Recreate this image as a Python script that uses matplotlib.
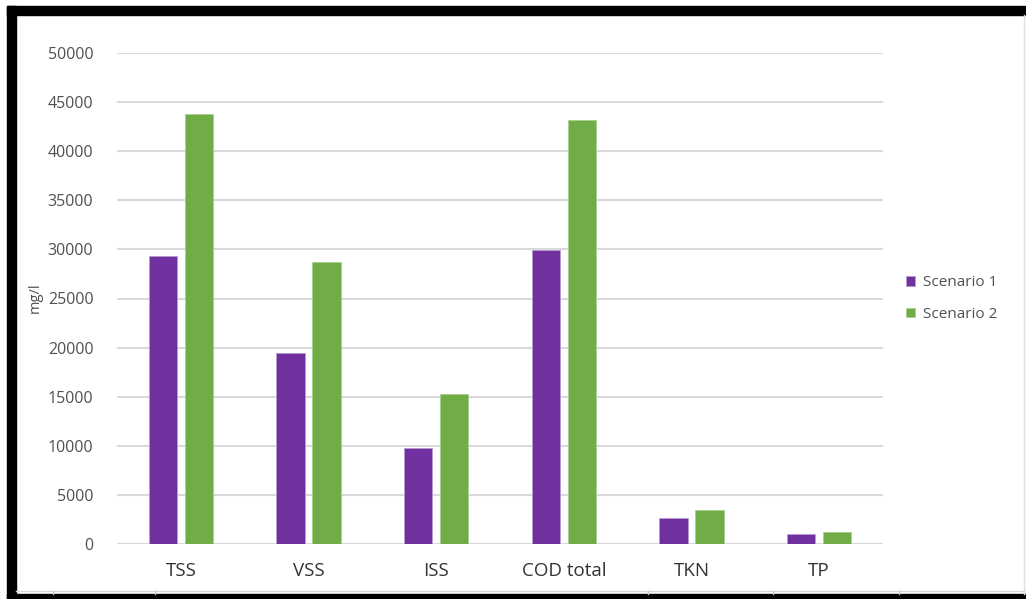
import matplotlib.pyplot as plt
import numpy as np
from matplotlib.patches import Rectangle
from matplotlib.lines import Line2D

plt.rcParams['font.family'] = ['Open Sans', 'DejaVu Sans']

categories = ['TSS', 'VSS', 'ISS', 'COD total', 'TKN', 'TP']
scenario_1 = [29300, 19500, 9800, 29900, 2650, 1050]
scenario_2 = [43800, 28700, 15300, 43200, 3500, 1250]
series_names = ['Scenario 1', 'Scenario 2']

purple = '#7030A0'
green = '#70AD47'

W, H = 1026, 599
fig = plt.figure(figsize=(W / 100, H / 100), dpi=100)

# thick black frame (top, left, bottom) around the sheet snippet
def px_rect(x0, y0, x1, y1, color):
    fig.patches.append(Rectangle((x0 / W, 1 - y1 / H), (x1 - x0) / W, (y1 - y0) / H,
                                 transform=fig.transFigure, color=color, zorder=0))

px_rect(7, 6, W, 15, 'black')
px_rect(7, 6, 16, H, 'black')
px_rect(7, 594, W, H, 'black')

# faint spreadsheet cell lines peeking out under the chart
fig.lines.append(Line2D([16 / W, 1], [1 - 591 / H] * 2, transform=fig.transFigure,
                        color='#d9d9d9', lw=1))
for xc in [53, 155, 648, 773, 899]:
    fig.lines.append(Line2D([xc / W] * 2, [1 - 591 / H, 1 - 594 / H],
                            transform=fig.transFigure, color='#c8c8c8', lw=1))
fig.lines.append(Line2D([1024 / W] * 2, [1 - 15 / H, 1 - 594 / H],
                        transform=fig.transFigure, color='#e0e0e0', lw=1))

ax = fig.add_axes([117 / W, 1 - 544 / H, 766 / W, 491 / H])

x = np.arange(len(categories))
bw = 0.22
gap = 0.0625
ax.bar(x - (bw + gap) / 2, scenario_1, bw, color=purple, edgecolor='#b99bd0',
       linewidth=0.6, label=series_names[0], zorder=3)
ax.bar(x + (bw + gap) / 2, scenario_2, bw, color=green, edgecolor='#a9d08e',
       linewidth=0.6, label=series_names[1], zorder=3)

ax.set_xlim(-0.5, len(categories) - 0.5)
ax.set_ylim(0, 50000)
ax.set_yticks(range(0, 50001, 5000))
ax.yaxis.grid(True, color='#d9d9d9', lw=1.5, zorder=0)
ax.set_axisbelow(True)
for s in ax.spines.values():
    s.set_visible(False)
ax.tick_params(axis='both', length=0)
ax.tick_params(axis='y', labelsize=11.5, labelcolor='#505050', pad=17)
ax.set_xticks(x)
ax.set_xticklabels(categories, fontsize=13.5, color='#333333')
ax.tick_params(axis='x', pad=13)

fig.text(35 / W, 1 - 298 / H, 'mg/l', rotation=90, ha='center', va='center',
         fontsize=10.5, color='#505050')

ax.legend(loc='center left', bbox_to_anchor=(900 / 766 - 117 / 766, 0.5),
          frameon=False, fontsize=11, labelcolor='#505050', handlelength=0.6,
          handleheight=0.6, handletextpad=0.5, labelspacing=1.1,
          borderaxespad=0)

fig.savefig('out.png', dpi=100)
